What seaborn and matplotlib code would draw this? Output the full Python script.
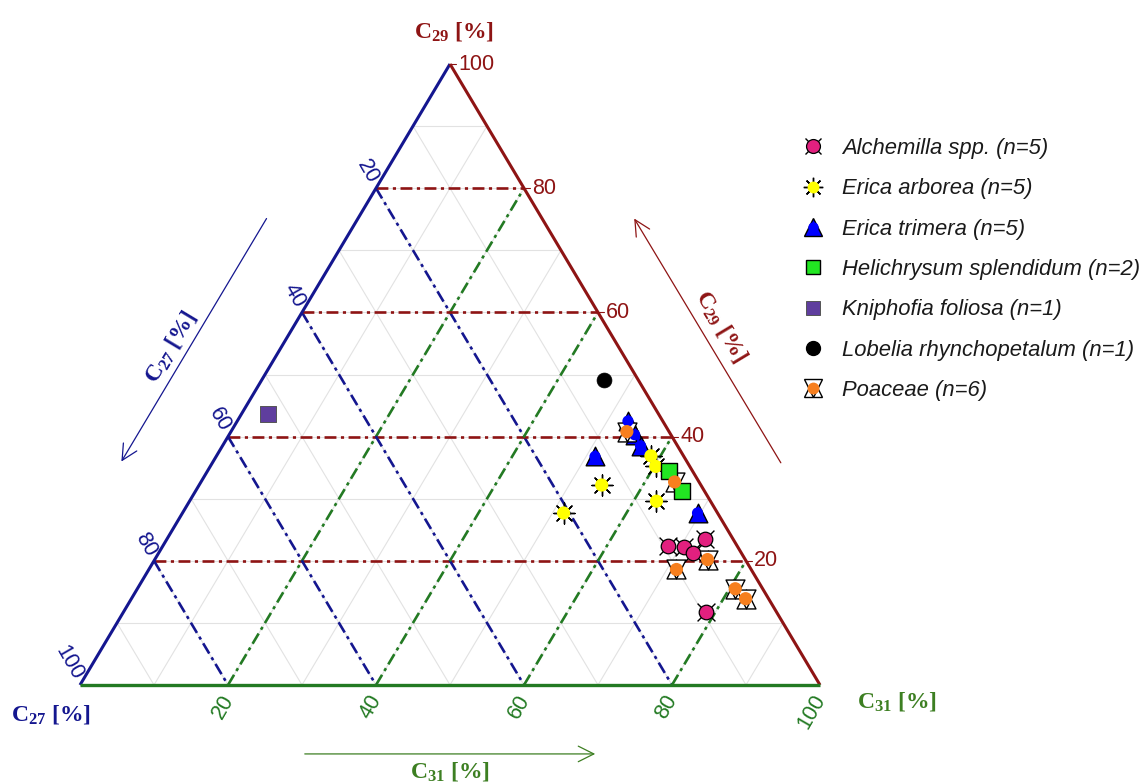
import numpy as np
import pandas as pd
import matplotlib
matplotlib.use("Agg")
import matplotlib.pyplot as plt
import seaborn as sns
from matplotlib.lines import Line2D
from matplotlib.font_manager import FontProperties

# ---------------- data (percent of C27, C29, C31) ----------------
species = ["Alchemilla spp. (n=5)", "Erica arborea (n=5)", "Erica trimera (n=5)",
           "Helichrysum splendidum (n=2)", "Kniphofia foliosa (n=1)",
           "Lobelia rhynchopetalum (n=1)", "Poaceae (n=6)"]

alch_c29 = [22.4, 22.2, 21.2, 23.5, 11.8]
alch_c31 = [68.2, 70.5, 72.3, 72.7, 78.7]

arb_c29 = [36.9, 35.2, 32.2, 29.6, 27.7]
arb_c31 = [58.7, 60.2, 54.4, 63.1, 51.5]

tri_c29 = [42.5, 40.3, 38.5, 36.8, 27.7]
tri_c31 = [52.8, 54.8, 56.5, 51.2, 69.6]

hel_c29 = [34.5, 31.2]
hel_c31 = [62.4, 65.7]

kni_c29 = [43.6]
kni_c31 = [3.6]

lob_c29 = [49.1]
lob_c31 = [46.2]

poa_c29 = [40.8, 32.7, 20.2, 18.6, 15.5, 13.9]
poa_c31 = [53.5, 64.0, 74.7, 71.3, 80.8, 83.0]

tick_values = [20, 40, 60, 80, 100]
grid_values = [10, 20, 30, 40, 50, 60, 70, 80, 90]
major_values = [20, 40, 60, 80]

# ---------------- styling ----------------
RED = "#8E1414"
BLUE = "#14168F"
GREEN = "#237A23"
GREEN_T = "#3D7F22"
PINK = "#E2207F"
YELLOW = "#FFFF00"
TBLUE = "#0000FF"
LGREEN = "#22E622"
PURPLE = "#5F3E9E"
ORANGE = "#F77F1E"

sns.set_theme(style="white")
plt.rcParams["font.family"] = ["Liberation Sans", "DejaVu Sans"]
plt.rcParams["mathtext.fontset"] = "custom"
plt.rcParams["mathtext.rm"] = "Liberation Serif:bold"
plt.rcParams["mathtext.bf"] = "Liberation Serif:bold"
plt.rcParams["mathtext.it"] = "Liberation Serif:bold"


def tern(c29, c31):
    c29 = np.asarray(c29, float)
    c31 = np.asarray(c31, float)
    return c31 + c29 / 2.0, c29


rows = []
for name, c29, c31 in [(species[0], alch_c29, alch_c31), (species[1], arb_c29, arb_c31),
                       (species[2], tri_c29, tri_c31), (species[3], hel_c29, hel_c31),
                       (species[4], kni_c29, kni_c31), (species[5], lob_c29, lob_c31),
                       (species[6], poa_c29, poa_c31)]:
    X, Y = tern(c29, c31)
    for a, b, x, y in zip(c29, c31, X, Y):
        rows.append(dict(species=name, C29=a, C31=b, C27=100 - a - b, X=x, Y=y))
df = pd.DataFrame(rows)

fig = plt.figure(figsize=(11.47, 7.83), dpi=100)
ax = fig.add_axes([0, 0, 1, 1])
# pixel mapping: px = 80 + 7.40*X ; py = 685 - 6.21*Y
ax.set_xlim(-80 / 7.40, (1147 - 80) / 7.40)
ax.set_ylim(-(783 - 685) / 6.21, 685 / 6.21)
ax.axis("off")

dd = (0, (4.5, 1.7, 1.2, 1.7))

# light grid
for v in grid_values:
    ax.plot([v / 2, 100 - v / 2], [v, v], color="#e2e2e2", lw=0.8, zorder=1)
    ax.plot([(100 - v) / 2, 100 - v], [100 - v, 0], color="#e2e2e2", lw=0.8, zorder=1)
    ax.plot([v, v + (100 - v) / 2], [0, 100 - v], color="#e2e2e2", lw=0.8, zorder=1)

# dash-dot reference lines
for v in major_values:
    ax.plot([v / 2, 100 - v / 2], [v, v], color=RED, lw=1.9, ls=dd, zorder=2)
    ax.plot([(100 - v) / 2, 100 - v], [100 - v, 0], color=BLUE, lw=1.9, ls=dd, zorder=2)
    ax.plot([v, v + (100 - v) / 2], [0, 100 - v], color=GREEN, lw=1.9, ls=dd, zorder=2)

# triangle edges
ax.plot([0, 50], [0, 100], color=BLUE, lw=2.2, zorder=3, solid_capstyle="butt")
ax.plot([50, 100], [100, 0], color=RED, lw=2.2, zorder=3, solid_capstyle="butt")
ax.plot([0, 100], [0, 0], color=GREEN, lw=2.4, zorder=3, solid_capstyle="butt")

tfont = dict(family="Liberation Sans", size=15.5)
for v in tick_values:
    # right edge : C29
    x, y = 100 - v / 2, v
    ax.plot([x, x + 0.8], [y, y], color=RED, lw=0.8, zorder=3)
    ax.annotate(str(v), (x, y), xytext=(6.0, 0), textcoords="offset points",
                ha="left", va="center", color=RED, **tfont)
    # left edge : C27
    x, y = (100 - v) / 2, 100 - v
    ax.annotate(str(v), (x, y), xytext=(-1.5, 4.5), textcoords="offset points",
                ha="right", va="center", rotation=-60, rotation_mode="anchor",
                color=BLUE, **tfont)
    # bottom edge : C31
    x, y = v, 0
    ax.annotate(str(v), (x, y), xytext=(0.5, -8.0), textcoords="offset points",
                ha="right", va="center", rotation=60, rotation_mode="anchor",
                color=GREEN, **tfont)

lfont = dict(size=17)
ax.text(50.5, 105.3, r"C$_{\mathrm{29}}$ [%]", color=RED, ha="center", va="center",
        family="Liberation Serif", weight="bold", **lfont)
ax.text(-3.9, -4.8, r"C$_{\mathrm{27}}$ [%]", color=BLUE, ha="center", va="center",
        family="Liberation Serif", weight="bold", **lfont)
ax.text(110.4, -2.6, r"C$_{\mathrm{31}}$ [%]", color=GREEN_T, ha="center", va="center",
        family="Liberation Serif", weight="bold", **lfont)

# side arrows and labels
aprops = dict(arrowstyle="->", lw=0.9, mutation_scale=28)
ax.annotate("", xy=(5.4, 35.6), xytext=(25.4, 75.5),
            arrowprops=dict(color=BLUE, **aprops))
ax.text(12.2, 54.4, r"C$_{\mathrm{27}}$ [%]", color=BLUE, ha="center", va="center",
        rotation=59, rotation_mode="anchor", family="Liberation Serif", weight="bold", **lfont)
ax.annotate("", xy=(74.7, 75.5), xytext=(94.9, 35.4),
            arrowprops=dict(color=RED, **aprops))
ax.text(86.7, 57.7, r"C$_{\mathrm{29}}$ [%]", color=RED, ha="center", va="center",
        rotation=-59, rotation_mode="anchor", family="Liberation Serif", weight="bold", **lfont)
ax.annotate("", xy=(70.0, -11.1), xytext=(30.0, -11.1),
            arrowprops=dict(color=GREEN_T, **aprops))
ax.text(50.0, -14.0, r"C$_{\mathrm{31}}$ [%]", color=GREEN_T, ha="center", va="center",
        family="Liberation Serif", weight="bold", **lfont)

# ---------------- points (seaborn) ----------------
def layer(name, marker, s, fc, ec, lw, z):
    sub = df[df.species == name]
    sns.scatterplot(data=sub, x="X", y="Y", marker=marker, s=s, color=fc,
                    edgecolor=ec, linewidth=lw, ax=ax, legend=False, zorder=z,
                    clip_on=False)

# Alchemilla: x behind pink circle
sub = df[df.species == species[0]]
sns.scatterplot(data=sub, x="X", y="Y", marker="x", s=165, color="black", linewidth=1.0,
                ax=ax, legend=False, zorder=5)
layer(species[0], "o", 110, PINK, "black", 0.9, 6)
# Erica arborea: asterisk behind yellow circle
sub = df[df.species == species[1]]
ax.scatter(sub.X, sub.Y, marker=(8, 2, 0), s=230, color="black", linewidth=1.0, zorder=5)
layer(species[1], "o", 90, YELLOW, "none", 0, 6)
# Erica trimera
layer(species[2], "^", 180, TBLUE, "black", 1.0, 5)
layer(species[2], "o", 65, TBLUE, "none", 0, 6)
# Helichrysum
layer(species[3], "s", 120, LGREEN, "black", 1.0, 6)
# Kniphofia
layer(species[4], "s", 120, PURPLE, "#555555", 0.7, 6)
# Lobelia
layer(species[5], "o", 115, "black", "black", 0.5, 6)
# Poaceae: star of David behind orange circle
layer(species[6], "^", 185, "white", "black", 1.0, 5)
layer(species[6], "v", 185, "white", "black", 1.0, 5)
layer(species[6], "o", 90, ORANGE, "none", 0, 6)

# ---------------- legend ----------------
def L(**kw):
    return Line2D([], [], ls="", **kw)

handles = [
    (L(marker="x", color="black", ms=12, mew=1.0), L(marker="o", mfc=PINK, mec="black", mew=0.9, ms=10)),
    (L(marker=(8, 2, 0), color="black", ms=14, mew=1.0), L(marker="o", mfc=YELLOW, mec=YELLOW, mew=0, ms=8.5)),
    (L(marker="^", mfc=TBLUE, mec="black", mew=1.0, ms=13), L(marker="o", mfc=TBLUE, mec=TBLUE, mew=0, ms=7.5)),
    (L(marker="s", mfc=LGREEN, mec="black", mew=1.0, ms=10),),
    (L(marker="s", mfc=PURPLE, mec="#555555", mew=0.7, ms=10),),
    (L(marker="o", mfc="black", mec="black", ms=10),),
    (L(marker="^", mfc="white", mec="black", mew=1.0, ms=13), L(marker="v", mfc="white", mec="black", mew=1.0, ms=13),
     L(marker="o", mfc=ORANGE, mec=ORANGE, mew=0, ms=8.5)),
]
leg = fig.legend(handles, species, loc="upper left",
                 bbox_to_anchor=(802 / 1147, 1 - 138 / 783), bbox_transform=fig.transFigure,
                 frameon=False, borderpad=0, borderaxespad=0,
                 prop=FontProperties(family="Liberation Sans", style="italic", size=15.8),
                 labelspacing=0.88, handlelength=1.0, handletextpad=0.82)
for t in leg.get_texts():
    t.set_color("#1a1a1a")

fig.savefig("out.png", dpi=100)
